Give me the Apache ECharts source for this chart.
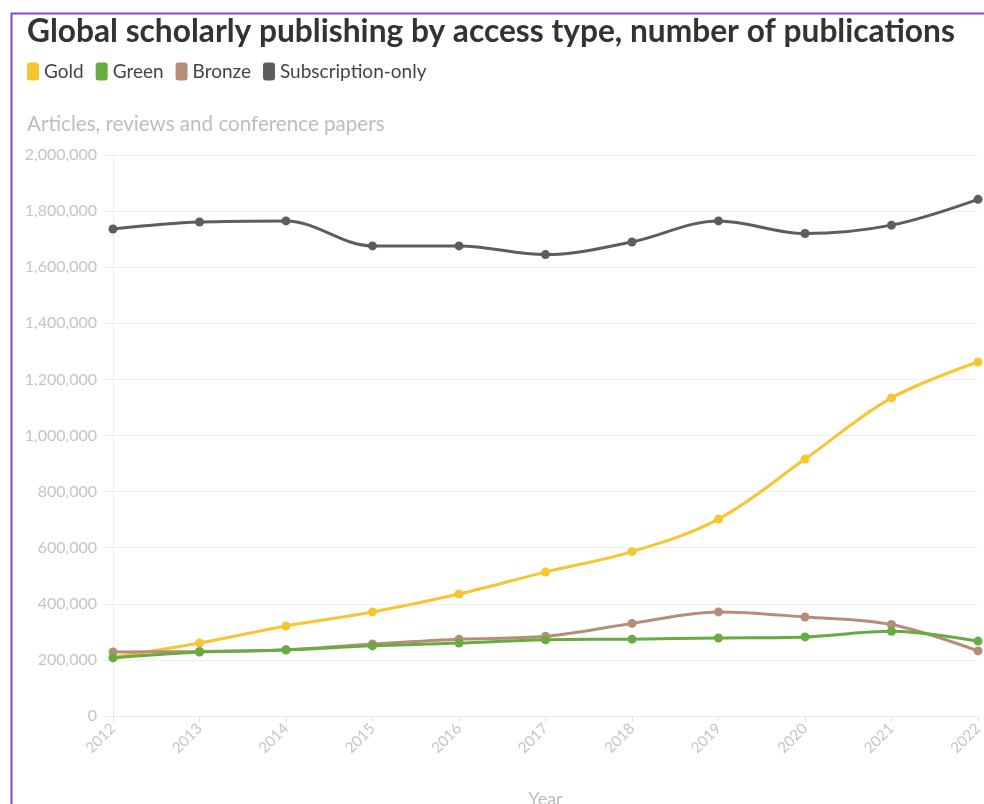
<!DOCTYPE html>
<html>
<head>
<meta charset="utf-8">
<script src="https://cdn.jsdelivr.net/npm/echarts@6/dist/echarts.min.js"></script>
<style>
  html, body { margin: 0; padding: 0; background: #fff; }
  #chart { width: 984px; height: 804px; }
</style>
</head>
<body>
<div id="chart"></div>
<script>
// Publications per year by access type
const years = ['2012','2013','2014','2015','2016','2017','2018','2019','2020','2021','2022'];
const gold = [210000, 260000, 321000, 371000, 435000, 513000, 586000, 702000, 916000, 1134000, 1262000];
const green = [207000, 228000, 235000, 250000, 260000, 272000, 274000, 278000, 282000, 302000, 267000];
const bronze = [228000, 230000, 236000, 257000, 274000, 284000, 330000, 371000, 353000, 326000, 232000];
const subscription = [1736000, 1761000, 1765000, 1676000, 1676000, 1645000, 1690000, 1765000, 1720000, 1750000, 1842000];

const seriesNames = ['Gold', 'Green', 'Bronze', 'Subscription-only'];
const seriesColors = ['#f7c531', '#67ab41', '#b68d77', '#5d5d5d'];
const seriesData = [gold, green, bronze, subscription];

const FONT = 'Lato, "Open Sans", sans-serif';
const chart = echarts.init(document.getElementById('chart'), null, { renderer: 'canvas' });

const fmt = v => v.toLocaleString('en-US');

chart.setOption({
  animation: false,
  backgroundColor: '#fff',
  textStyle: { fontFamily: FONT },
  graphic: [
    // frame around the figure
    { type: 'rect', left: 9, top: 11, shape: { width: 1100, height: 900 },
      style: { fill: 'none', stroke: '#8447c6', lineWidth: 2 }, z: 10 },
    { type: 'text', left: 27, top: 114,
      style: { text: 'Articles, reviews and conference papers', fill: '#bdbdbd',
               font: '20.6px ' + FONT } }
  ],
  title: {
    text: 'Global scholarly publishing by access type, number of publications',
    left: 22, top: 11,
    textStyle: { fontFamily: FONT, fontWeight: 'bold', fontSize: 31.7, color: '#333' }
  },
  legend: {
    left: 22, top: 57,
    itemWidth: 12, itemHeight: 18, itemGap: 12,
    icon: 'roundRect',
    data: seriesNames,
    textStyle: { fontFamily: FONT, fontSize: 19, color: '#444' }
  },
  grid: { left: 113, right: 6, top: 155, bottom: 88, containLabel: false, outerBoundsMode: 'none' },
  xAxis: {
    type: 'category',
    data: years,
    boundaryGap: false,
    name: 'Year',
    nameLocation: 'middle',
    nameGap: 74,
    nameTextStyle: { color: '#bdbdbd', fontSize: 18, fontFamily: FONT },
    axisLine: { show: true, lineStyle: { color: '#ececec' } },
    axisTick: { show: true, alignWithLabel: true, length: 6, lineStyle: { color: '#e4e4e4' } },
    axisLabel: { rotate: 45, color: '#c4c4c4', fontSize: 15, margin: 10, fontFamily: FONT },
    splitLine: { show: false }
  },
  yAxis: {
    type: 'value',
    min: 0, max: 2000000, interval: 200000,
    axisLine: { show: true, lineStyle: { color: '#ececec' } },
    axisTick: { show: true, length: 8, lineStyle: { color: '#ececec' } },
    axisLabel: { color: '#c4c4c4', fontSize: 16, margin: 16, fontFamily: FONT, formatter: fmt },
    splitLine: { show: true, lineStyle: { color: '#efefef' } }
  },
  series: seriesNames.map((name, i) => ({
    name,
    type: 'line',
    data: seriesData[i],
    smooth: 0.35,
    symbol: 'circle',
    symbolSize: 9,
    itemStyle: { color: seriesColors[i] },
    lineStyle: { width: 3, color: seriesColors[i] },
    z: i === 1 ? 4 : 3
  }))
});
</script>
</body>
</html>
